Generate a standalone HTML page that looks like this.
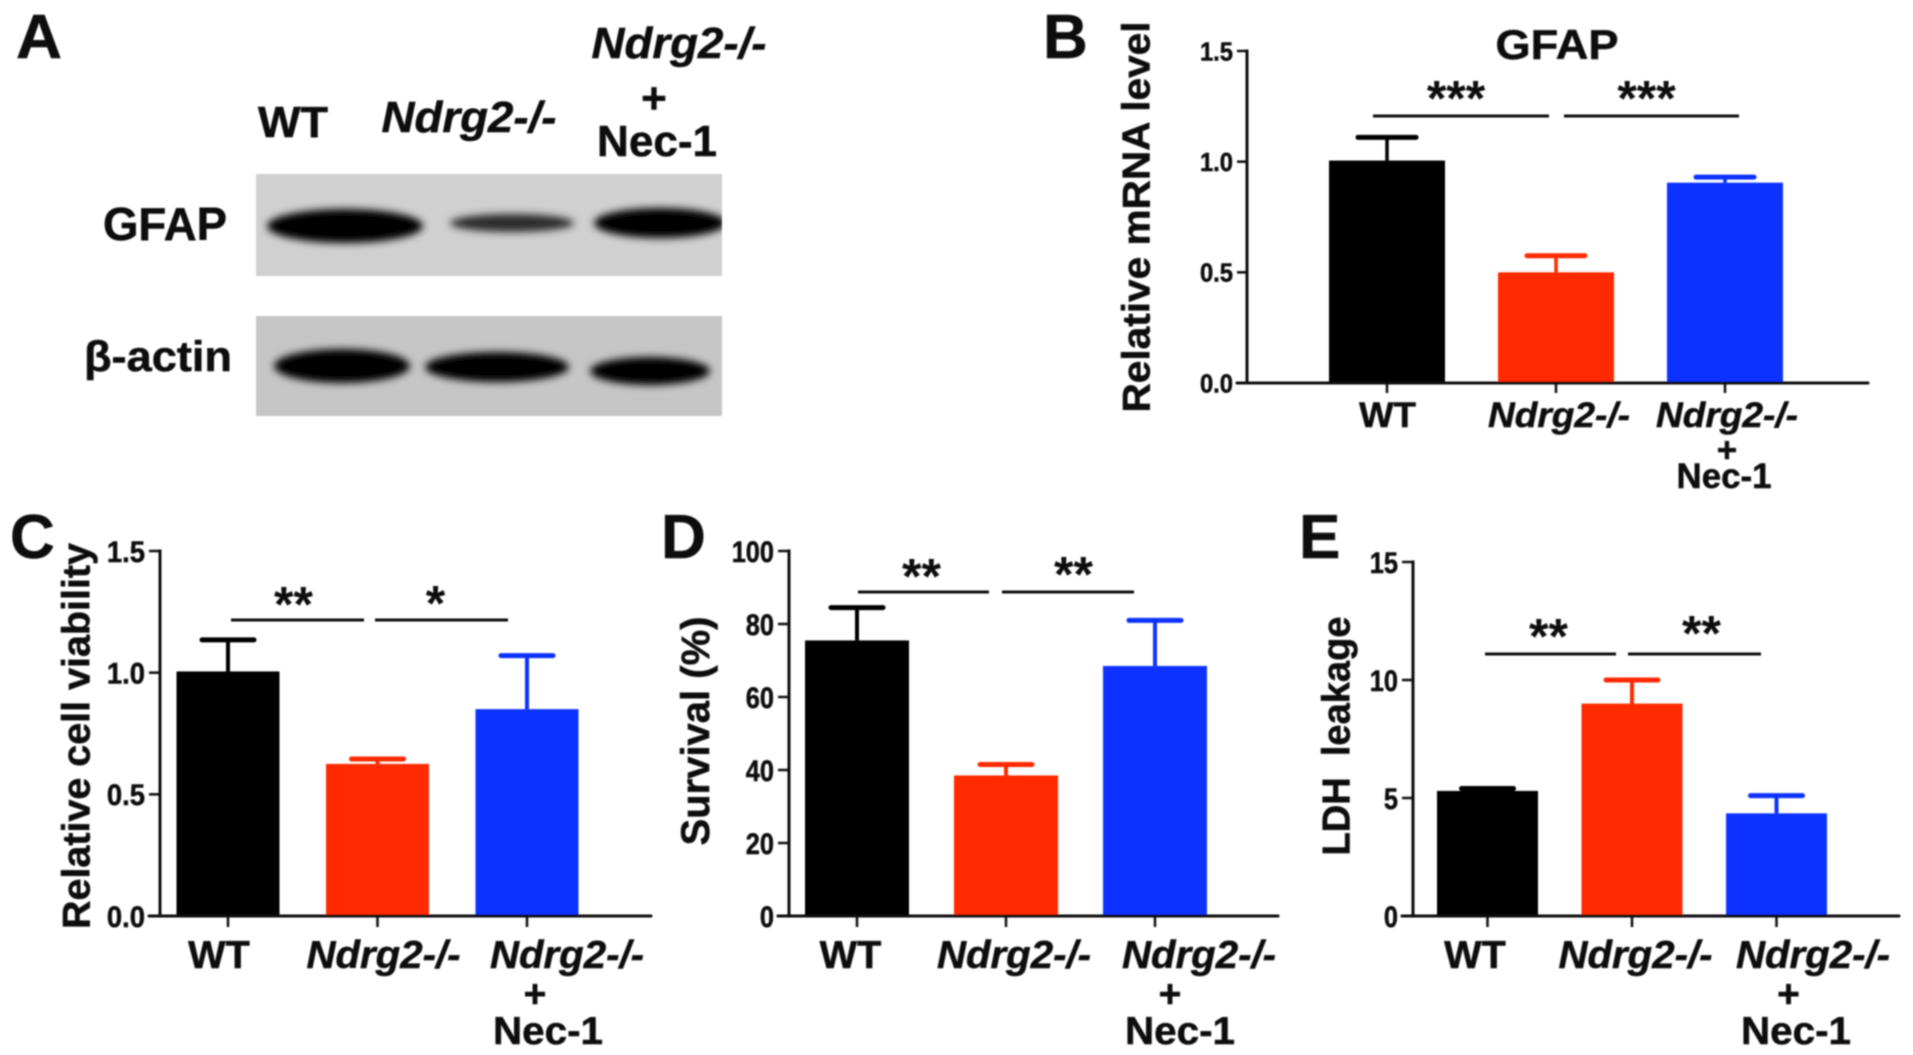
<!DOCTYPE html>
<html lang="en">
<head>
<meta charset="utf-8">
<title>GFAP, viability, survival and LDH leakage in Ndrg2-/- cells</title>
<style>
  html, body { margin: 0; padding: 0; background: #fff; }
  svg { display: block; }
  text { font-family: "Liberation Sans", sans-serif; font-weight: bold; fill: #0a0a0a; stroke: #0a0a0a; stroke-width: 0.5px; }
</style>
</head>
<body>
<svg id="figure" xmlns="http://www.w3.org/2000/svg" width="1913" height="1055" viewBox="0 0 1913 1055">
  <defs>
    <filter id="soft" x="-5%" y="-5%" width="110%" height="110%"><feGaussianBlur stdDeviation="0.8"/></filter>
    <filter id="band" x="-20%" y="-60%" width="140%" height="220%"><feGaussianBlur stdDeviation="4"/></filter>
    <clipPath id="blot-clip-1"><rect x="256" y="174" width="466" height="102"/></clipPath>
    <clipPath id="blot-clip-2"><rect x="256" y="316" width="466" height="100"/></clipPath>
  </defs>
  <rect width="1913" height="1055" fill="#ffffff"/>
  <g id="root" filter="url(#soft)">
    <g>
      <text x="16" y="58" font-size="62" textLength="46" lengthAdjust="spacingAndGlyphs">A</text>
      <text x="293" y="137" font-size="44" text-anchor="middle" textLength="70" lengthAdjust="spacingAndGlyphs">WT</text>
      <text x="469" y="132" font-size="44" font-style="italic" text-anchor="middle" textLength="175" lengthAdjust="spacingAndGlyphs">Ndrg2-/-</text>
      <text x="679" y="58" font-size="44" font-style="italic" text-anchor="middle" textLength="175" lengthAdjust="spacingAndGlyphs">Ndrg2-/-</text>
      <text x="654" y="113" font-size="44" text-anchor="middle">+</text>
      <text x="657" y="156" font-size="44" text-anchor="middle" textLength="120" lengthAdjust="spacingAndGlyphs">Nec-1</text>
      <text x="103" y="240" font-size="46" textLength="124" lengthAdjust="spacingAndGlyphs">GFAP</text>
      <text x="84" y="371" font-size="43" textLength="148" lengthAdjust="spacingAndGlyphs">β-actin</text>
      <g clip-path="url(#blot-clip-1)">
        <rect x="256" y="174" width="466" height="102" fill="#d0d0d0"/>
        <g filter="url(#band)">
          <ellipse cx="345" cy="226" rx="78" ry="17" fill="#000"/>
          <ellipse cx="512" cy="223" rx="62" ry="9" fill="#2c2c2c"/>
          <ellipse cx="660" cy="223" rx="66" ry="15" fill="#000"/>
        </g>
      </g>
      <g clip-path="url(#blot-clip-2)">
        <rect x="256" y="316" width="466" height="100" fill="#c6c6c6"/>
        <g filter="url(#band)">
          <ellipse cx="342" cy="366" rx="68" ry="17" fill="#000"/>
          <ellipse cx="497" cy="367" rx="72" ry="15" fill="#000"/>
          <ellipse cx="650" cy="371" rx="60" ry="14" fill="#000"/>
        </g>
      </g>
    </g>
    <g id="panel-b">
      <text x="1557" y="59" font-size="42" text-anchor="middle" textLength="123" lengthAdjust="spacingAndGlyphs">GFAP</text>
    </g>
    <g id="panel-c"></g>
    <g id="panel-d"></g>
    <g id="panel-e"></g>
  </g>
</svg>
<script>
// Chart data -----------------------------------------------------------------
const categories = ["WT", "Ndrg2-/-", "Ndrg2-/-"];
const barColors = ["#000000", "#ff2a00", "#0a32ff"];

const mrnaValues = [1.005, 0.5, 0.905];
const mrnaErrorTops = [1.11, 0.575, 0.93];
const mrnaTicks = ["0.0", "0.5", "1.0", "1.5"];

const viabilityValues = [1.005, 0.625, 0.85];
const viabilityErrorTops = [1.135, 0.645, 1.07];
const viabilityTicks = ["0.0", "0.5", "1.0", "1.5"];

const survivalValues = [75.5, 38.5, 68.5];
const survivalErrorTops = [84.5, 41.5, 81];
const survivalTicks = ["0", "20", "40", "60", "80", "100"];

const ldhValues = [5.3, 9.0, 4.35];
const ldhErrorTops = [5.4, 10, 5.1];
const ldhTicks = ["0", "5", "10", "15"];

// Rendering ------------------------------------------------------------------
const NS = "http://www.w3.org/2000/svg";
function svgEl(tag, attrs, parent) {
  const el = document.createElementNS(NS, tag);
  for (const key in attrs) el.setAttribute(key, attrs[key]);
  parent.appendChild(el);
  return el;
}

function drawPanel(cfg) {
  const g = document.getElementById(cfg.id);
  const g0 = cfg.layout;
  const yMax = Number(cfg.ticks[cfg.ticks.length - 1]);
  const y = v => g0.bottom - (v / yMax) * (g0.bottom - g0.top);
  const x = i => g0.center0 + i * g0.step;

  cfg.values.forEach((value, i) => {
    const stem = svgEl("line", { x1: x(i), x2: x(i), y1: y(value), y2: y(cfg.errorTops[i]), stroke: barColors[i], "stroke-width": g0.stemW }, g);
    
    
    const cap = svgEl("line", { x1: x(i) - g0.capW / 2, x2: x(i) + g0.capW / 2, y1: y(cfg.errorTops[i]), y2: y(cfg.errorTops[i]), stroke: barColors[i], "stroke-width": g0.capH, "stroke-linecap": "round" }, g);
    
    
    const bar = svgEl("rect", { x: x(i) - g0.barW / 2, y: y(value), width: g0.barW, height: y(0) - y(value), fill: barColors[i] }, g);
    
    
  });

  const yAxis = svgEl("line", { x1: g0.axisX, x2: g0.axisX, y1: g0.top - 1.5, y2: g0.bottom + 1.5, stroke: "#111", "stroke-width": g0.axisW }, g);
  
  
  const xAxis = svgEl("line", { x1: g0.axisX - g0.tickL, x2: g0.right, y1: g0.bottom, y2: g0.bottom, stroke: "#111", "stroke-width": g0.axisW, "stroke-linecap": "round" }, g);
  
  

  cfg.ticks.forEach(label => {
    const v = Number(label);
    const tick = svgEl("line", { x1: g0.axisX - g0.tickL, x2: g0.axisX, y1: y(v), y2: y(v), stroke: "#111", "stroke-width": g0.axisW - 0.5 }, g);
    
    
    const text = svgEl("text", { x: g0.axisX - g0.tickL - 4, y: y(v) + g0.tickFont * 0.36, "font-size": g0.tickFont, "text-anchor": "end", textLength: label.includes(".") ? g0.tickFont * 1.27 : g0.tickFont * 0.47 * label.length, lengthAdjust: "spacingAndGlyphs" }, g);
    text.textContent = label;
    
    
  });

  categories.forEach((name, i) => {
    const tick = svgEl("line", { x1: x(i), x2: x(i), y1: g0.bottom, y2: g0.bottom + g0.tickL, stroke: "#111", "stroke-width": g0.axisW - 0.5 }, g);
    
    
    const italic = name !== "WT";
    const text = svgEl("text", { x: x(i) + g0.labelDx[i], y: g0.labelY, "font-size": g0.labelFont, "text-anchor": "middle", textLength: italic ? g0.labelW : g0.labelW * 0.4, lengthAdjust: "spacingAndGlyphs" }, g);
    if (italic) text.setAttribute("font-style", "italic");
    text.textContent = name;
    
    
  });

  const plus = svgEl("text", { x: x(2) + g0.plusDx, y: g0.plusY, "font-size": g0.labelFont, "text-anchor": "middle" }, g);
  plus.textContent = "+";
  
  
  const nec = svgEl("text", { x: x(2) + g0.necDx, y: g0.necY, "font-size": g0.labelFont, "text-anchor": "middle", textLength: g0.necW, lengthAdjust: "spacingAndGlyphs" }, g);
  nec.textContent = "Nec-1";
  
  

  const title = svgEl("text", { transform: "translate(" + g0.titleX + " " + g0.titleY + ") rotate(-90)", "font-size": g0.titleFont, "text-anchor": "middle", textLength: g0.titleW, lengthAdjust: "spacingAndGlyphs" }, g);
  title.setAttribute("xml:space", "preserve");
  title.style.whiteSpace = "pre";
  title.textContent = cfg.yTitle;
  
  

  const letter = svgEl("text", { x: g0.letterX, y: g0.letterY, "font-size": 62 }, g);
  letter.textContent = cfg.letter;
  
  

  cfg.brackets.forEach(b => {
    const line = svgEl("line", { x1: b.x1, x2: b.x2, y1: b.y, y2: b.y, stroke: "#111", "stroke-width": 3 }, g);
    
    
    const stars = svgEl("text", { x: (b.x1 + b.x2) / 2 + b.dx, y: b.y - b.up + 28.3, "font-size": 50, "text-anchor": "middle" }, g);
    stars.style.strokeWidth = "0";
    stars.textContent = b.label;
    
    
  });
}

drawPanel({
  id: "panel-b", letter: "B", yTitle: "Relative mRNA level",
  values: mrnaValues, errorTops: mrnaErrorTops, ticks: mrnaTicks,
  layout: { axisX: 1247, right: 1868, top: 51, bottom: 383, center0: 1387, step: 169, barW: 116, capW: 58, capH: 5, stemW: 3.5, axisW: 3, tickL: 10, tickFont: 26, labelFont: 35, labelY: 427, labelW: 142, labelDx: [0.5, 3, 2], plusDx: 2, plusY: 462, necDx: -1, necY: 488, necW: 95, titleX: 1149.5, titleY: 217, titleFont: 39, titleW: 391, letterX: 1043, letterY: 58 },
  brackets: [ { x1: 1373, x2: 1549, y: 116, dx: -5, up: 29, label: "***" }, { x1: 1564, x2: 1739, y: 116, dx: -5, up: 29, label: "***" } ]
});
drawPanel({
  id: "panel-c", letter: "C", yTitle: "Relative cell viability",
  values: viabilityValues, errorTops: viabilityErrorTops, ticks: viabilityTicks,
  layout: { axisX: 160, right: 651, top: 551, bottom: 916, center0: 228, step: 149.5, barW: 103, capW: 52, capH: 5, stemW: 4, axisW: 3, tickL: 11, tickFont: 30, labelFont: 39, labelY: 968, labelW: 154, labelDx: [-9, 6, 40], plusDx: 8, plusY: 1007, necDx: 21, necY: 1044, necW: 110, titleX: 89.5, titleY: 736, titleFont: 39, titleW: 386, letterX: 10, letterY: 558 },
  brackets: [ { x1: 231, x2: 364, y: 620, dx: -4, up: 27, label: "**" }, { x1: 375, x2: 508, y: 620, dx: -6, up: 28, label: "*" } ]
});
drawPanel({
  id: "panel-d", letter: "D", yTitle: "Survival (%)",
  values: survivalValues, errorTops: survivalErrorTops, ticks: survivalTicks,
  layout: { axisX: 789, right: 1278, top: 551, bottom: 916, center0: 857, step: 149, barW: 104, capW: 52, capH: 5, stemW: 4, axisW: 3, tickL: 11, tickFont: 30, labelFont: 39, labelY: 968, labelW: 154, labelDx: [-6.5, 8, 44], plusDx: 15, plusY: 1007, necDx: 25, necY: 1044, necW: 110, titleX: 709, titleY: 731, titleFont: 40, titleW: 229, letterX: 661, letterY: 558 },
  brackets: [ { x1: 858, x2: 989, y: 592, dx: -2, up: 27, label: "**" }, { x1: 1002, x2: 1134, y: 592, dx: 5.5, up: 29, label: "**" } ]
});
drawPanel({
  id: "panel-e", letter: "E", yTitle: "LDH  leakage",
  values: ldhValues, errorTops: ldhErrorTops, ticks: ldhTicks,
  layout: { axisX: 1413, right: 1899, top: 562, bottom: 916, center0: 1487.5, step: 144.5, barW: 101, capW: 52, capH: 5, stemW: 4, axisW: 3, tickL: 11, tickFont: 30, labelFont: 39, labelY: 968, labelW: 154, labelDx: [-12.5, 3.5, 36.5], plusDx: 12, plusY: 1007, necDx: 19.5, necY: 1044, necW: 110, titleX: 1349.5, titleY: 736, titleFont: 39, titleW: 239, letterX: 1299, letterY: 558 },
  brackets: [ { x1: 1485, x2: 1616, y: 654, dx: -2, up: 29, label: "**" }, { x1: 1628, x2: 1761, y: 654, dx: 7, up: 32, label: "**" } ]
});
</script>
</body>
</html>
